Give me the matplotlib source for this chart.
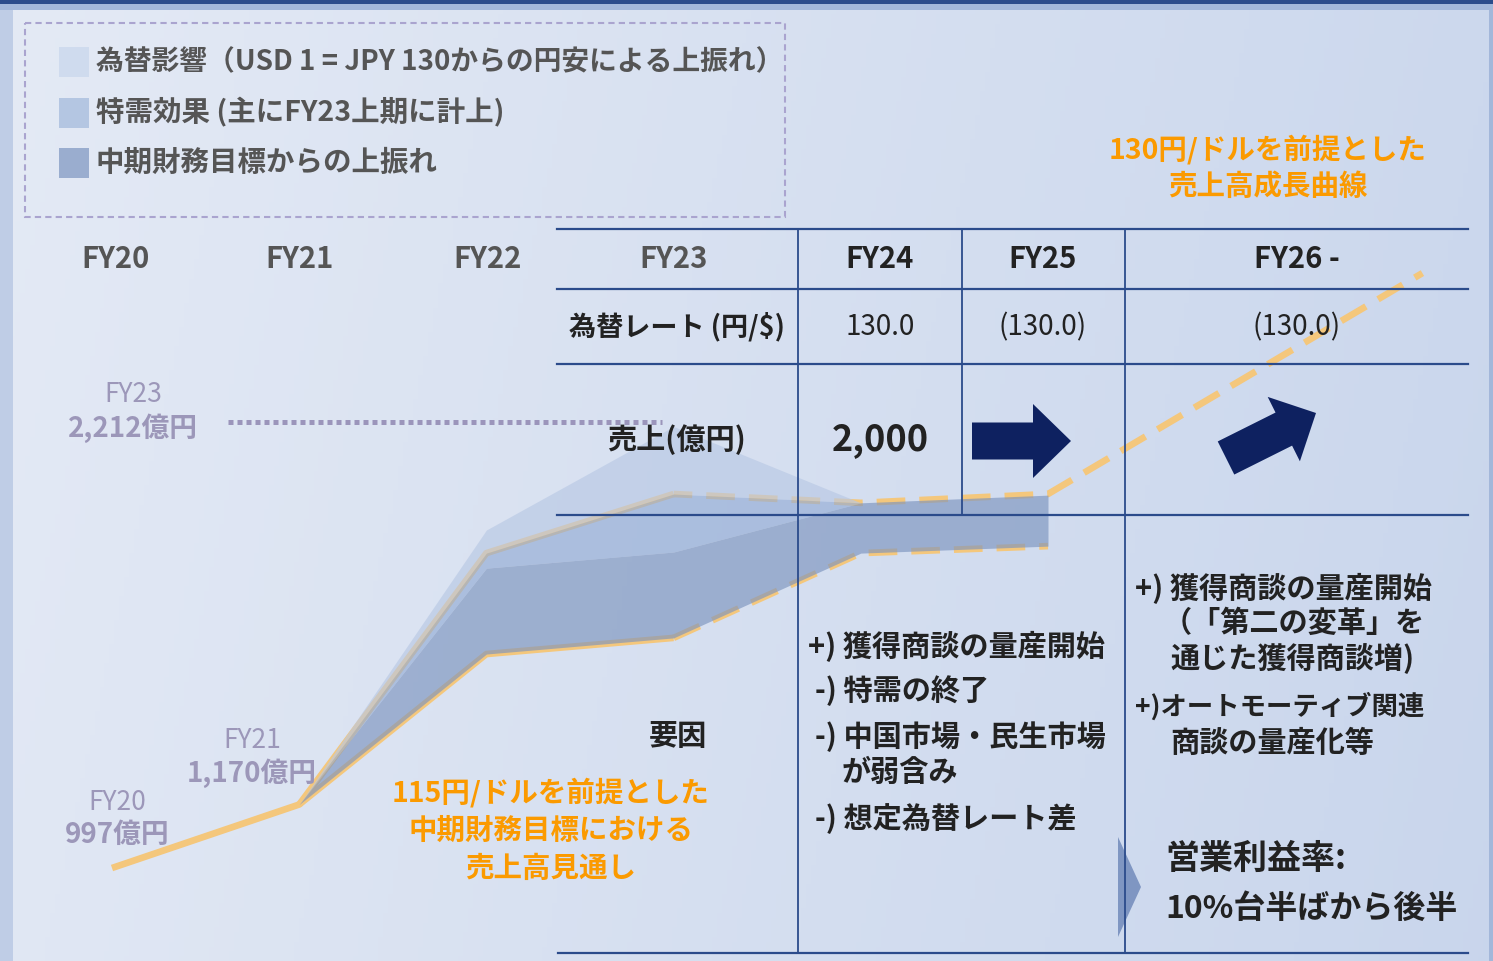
import matplotlib
matplotlib.use("Agg")
import matplotlib.pyplot as plt
import matplotlib.patches as mpatches
import numpy as np

plt.rcParams['font.family'] = ['Noto Sans CJK JP', 'DejaVu Sans']

# --- data (億円) ---
years = ["FY20", "FY21", "FY22", "FY23", "FY24", "FY25"]
fy_x = np.arange(len(years))
plan115 = [997, 1170, 1580, 1624, 1855, 1874]          # 115円/ドル 前提 中期財務目標
curve130_x = [0, 1, 2, 3, 4, 5, 7]
curve130 = [997, 1170, 1855, 2016, 1992, 2016, 2618]    # 130円/ドル 前提 成長曲線
actual_x = [1, 2, 3, 4]
actual_top = [1170, 1918, 2200, 1992]                   # 為替影響込み
base_top = [1170, 1814, 1858, 1992, 2013]               # 中期財務目標からの上振れ 上端
fy23_sales = 2212

headers = ["FY20", "FY21", "FY22", "FY23", "FY24", "FY25", "FY26 -"]
fx_rates = ["130.0", "(130.0)", "(130.0)"]
fy24_sales = "2,000"

legend_labels = ["為替影響（USD 1 = JPY 130からの円安による上振れ）",
                 "特需効果 (主にFY23上期に計上)",
                 "中期財務目標からの上振れ"]
legend_colors = ["#cfdbee", "#b4c6e2", "#9aadcf"]
fill_colors = ["#b8c8e4", "#93acd5", "#7c94be"]

orange = "#f4c77c"
navy = "#2b4b8b"
purple = "#9c97b9"
dark = "#222222"
orange_txt = "#fb9a00"

W, H = 1493, 961
fig = plt.figure(figsize=(W / 100, H / 100), dpi=100)

# background gradient
bg = fig.add_axes([0, 0, 1, 1], zorder=0)
gx, gy = np.meshgrid(np.linspace(0, 1, 300), np.linspace(0, 1, 200))
t = np.clip(0.85 * gx + 0.12 * gy, 0, 1)[..., None]
left = np.array([228, 234, 245]) / 255
right = np.array([200, 213, 236]) / 255
bg.imshow(left * (1 - t) + right * t, extent=[0, W, H, 0], aspect='auto')
bg.set_xlim(0, W)
bg.set_ylim(H, 0)
bg.axis('off')
bg.add_patch(mpatches.Rectangle((0, 0), W, 10, color="#a3b7da", lw=0))
bg.add_patch(mpatches.Rectangle((0, 0), W, 3.5, color=navy, lw=0))
bg.add_patch(mpatches.Rectangle((0, 10), 13, H, color="#bfcde6", lw=0))
bg.add_patch(mpatches.Rectangle((1489, 10), 4, H, color="#a3b7da", lw=0))

# chart axes: x = fiscal year index, y = 億円
ax = fig.add_axes([0, 0, 1, 1], zorder=1)
ax.set_xlim(-112 / 187.2, (W - 112) / 187.2)
ax.set_ylim(743.6, 3362.1)
ax.axis('off')
ax.patch.set_alpha(0)

lw = 4.8
dash = (0, (4.3, 2.1))
ax.plot(fy_x[:4], plan115[:4], color=orange, lw=lw, solid_capstyle='butt', zorder=2)
ax.plot(fy_x[3:], plan115[3:], color=orange, lw=lw, linestyle=dash, zorder=2)
ax.plot(curve130_x[1:4], curve130[1:4], color=orange, lw=lw, solid_capstyle='butt', zorder=2)
ax.plot(curve130_x[3:], curve130[3:], color=orange, lw=lw, linestyle=(1.5, (4.3, 2.1)), zorder=2)

ax.fill_between(actual_x, curve130[1:5], actual_top, color=fill_colors[0], alpha=0.65, lw=0, zorder=3)
ax.fill_between(actual_x, base_top[:4], curve130[1:5], color=fill_colors[1], alpha=0.65, lw=0, zorder=3)
ax.fill_between(fy_x[1:], plan115[1:], base_top, color=fill_colors[2], alpha=0.65, lw=0, zorder=3)

# FY23 reference dotted line
ax.plot([0.62, 2.94], [fy23_sales, fy23_sales], color="#9b95bb", lw=3.6,
        linestyle=(0, (1, 0.8)), dash_capstyle='butt', zorder=2)

# overlay in pixel units for table, labels and arrows
ov = fig.add_axes([0, 0, 1, 1], zorder=2)
ov.set_xlim(0, W)
ov.set_ylim(H, 0)
ov.axis('off')
ov.patch.set_alpha(0)

# legend box
ov.add_patch(mpatches.Rectangle((25, 23), 760, 194, fill=False, ec="#aaa4cf",
                                lw=1.5, linestyle=(0, (3, 2))))
for i, (lab, c) in enumerate(zip(legend_labels, legend_colors)):
    yc = 62 + i * 50.5
    ov.add_patch(mpatches.Rectangle((59, yc - 15), 30, 30, color=c, lw=0))
    ov.text(96, yc, lab, fontsize=20 if i == 0 else 20.5, fontweight='bold',
            color="#555555", va='center', ha='left')

# table lines
for yl in [229, 289, 364, 515]:
    ov.plot([557, 1468], [yl, yl], color=navy, lw=1.6)
ov.plot([558, 1468], [953, 953], color=navy, lw=1.6)
ov.plot([798, 798], [229, 953], color=navy, lw=1.3)
ov.plot([962, 962], [229, 515], color=navy, lw=1.3)
ov.plot([1125, 1125], [229, 953], color=navy, lw=1.3)

# headers
hx = [115, 300, 488, 674, 880, 1043, 1297]
for i, (h, x) in enumerate(zip(headers, hx)):
    ov.text(x, 259, h, fontsize=21, fontweight='bold', color="#555555" if i < 4 else dark,
            ha='center', va='center')

ov.text(677, 327, "為替レート (円/$)", fontsize=19.5, fontweight='bold', color=dark, ha='center', va='center')
for x, r in zip([880, 1043, 1297], fx_rates):
    ov.text(x, 327, r, fontsize=20, color=dark, ha='center', va='center')
ov.text(677, 440, "売上(億円)", fontsize=21, fontweight='bold', color=dark, ha='center', va='center')
ov.text(880, 440, fy24_sales, fontsize=26, fontweight='bold', color=dark, ha='center', va='center')

# arrows
ov.add_patch(mpatches.FancyArrow(972, 441, 99, 0, width=37, head_width=74, head_length=38,
                                 length_includes_head=True, color="#0e2160", lw=0))
ov.add_patch(mpatches.FancyArrow(1226, 458, 90, -45, width=37, head_width=72, head_length=36,
                                 length_includes_head=True, color="#0e2160", lw=0))
ov.add_patch(mpatches.Polygon([(1118, 837), (1141, 887), (1118, 937)], closed=True,
                              color="#7f96c2", lw=0))

# value labels
for x, y1, y2, a, b in [(133, 395, 428, "FY23", "2,212億円"),
                        (252, 740, 773, "FY21", "1,170億円"),
                        (117, 802, 835, "FY20", "997億円")]:
    ov.text(x, y1, a, fontsize=19, color=purple, ha='center', va='center')
    ov.text(x, y2, b, fontsize=20, fontweight='bold', color=purple, ha='center', va='center')

ov.text(678, 736, "要因", fontsize=21, fontweight='bold', color=dark, ha='center', va='center')

for y, s in zip([793, 831, 869], ["115円/ドルを前提とした", "中期財務目標における", "売上高見通し"]):
    ov.text(551, y, s, fontsize=20.5, fontweight='bold', color=orange_txt, ha='center', va='center')
for y, s in zip([150, 187], ["130円/ドルを前提とした", "売上高成長曲線"]):
    ov.text(1268, y, s, fontsize=20.5, fontweight='bold', color=orange_txt, ha='center', va='center')

factors_fy24 = [(808, 646, "+) 獲得商談の量産開始"), (815, 691, "-) 特需の終了"),
                (815, 737, "-) 中国市場・民生市場"), (842, 772, "が弱含み"),
                (815, 819, "-) 想定為替レート差")]
for x, y, s in factors_fy24:
    ov.text(x, y, s, fontsize=21, fontweight='bold', color=dark, ha='left', va='center')

factors_fy26 = [(1135, 588, "+) 獲得商談の量産開始", 21), (1163, 623, "（「第二の変革」を", 21),
                (1170, 659, "通じた獲得商談増)", 21), (1135, 707, "+)オートモーティブ関連", 19),
                (1170, 743, "商談の量産化等", 21)]
for x, y, s, fs in factors_fy26:
    ov.text(x, y, s, fontsize=fs, fontweight='bold', color=dark, ha='left', va='center')

ov.text(1165, 858, "営業利益率:", fontsize=24.5, fontweight='bold', color=dark, ha='left', va='center')
ov.text(1165, 909, "10%台半ばから後半", fontsize=23, fontweight='bold', color=dark, ha='left', va='center')

fig.savefig("out.png", dpi=100)
